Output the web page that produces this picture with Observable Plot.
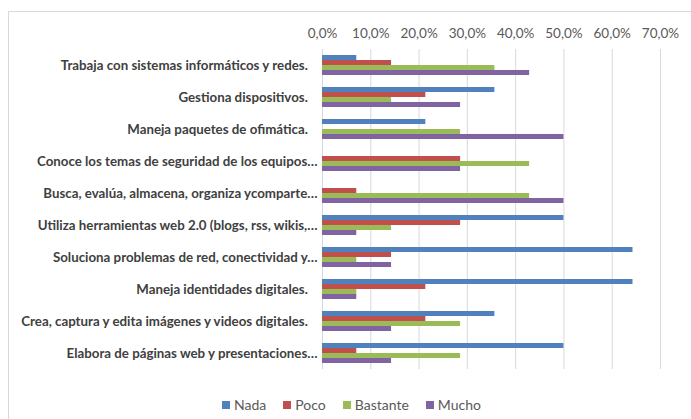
<!DOCTYPE html>
<html><head><meta charset="utf-8">
<script src="https://cdn.jsdelivr.net/npm/d3@7"></script>
<script src="https://cdn.jsdelivr.net/npm/@observablehq/plot@0.6"></script>
<style>
body{margin:0;background:#fff;font-family:Lato, sans-serif;}
#frame{position:absolute;left:8px;top:11px;width:700px;height:420px;border:1px solid #d9d9d9;}
#chart{position:absolute;left:0;top:0;}
#chart svg{overflow:visible;}
#chart [aria-label^="fy-axis"] text{font-weight:bold;fill:#404040;font-size:13.3px;}
#chart [aria-label^="x-axis"] text{fill:#595959;font-size:13.5px;}
#legend{position:absolute;left:6px;top:388px;width:691px;display:flex;justify-content:center;}
#legend span, #legend div{color:#595959;font-size:14px;font-family:Lato, sans-serif;}
#legend span{margin-right:17px !important;}
#legend span:last-child{margin-right:0 !important;}
#legend span > svg{margin-right:4px !important;}
</style></head><body>
<div id="frame"></div>
<div id="chart"></div>
<div id="legend"></div>
<script>
const categories = [
  "Trabaja con sistemas informáticos y redes.\u00a0\u00a0\u00a0",
  "Gestiona dispositivos.\u00a0\u00a0\u00a0",
  "Maneja paquetes de ofimática.\u00a0\u00a0\u00a0",
  "Conoce los temas de seguridad de los equipos…",
  "Busca, evalúa, almacena, organiza ycomparte…",
  "Utiliza herramientas web 2.0 (blogs, rss, wikis,…",
  "Soluciona problemas de red, conectividad y…",
  "Maneja identidades digitales.\u00a0\u00a0\u00a0",
  "Crea, captura y edita imágenes y videos digitales.\u00a0\u00a0\u00a0",
  "Elabora de páginas web y presentaciones…"
];
const series = ["Nada", "Poco", "Bastante", "Mucho"];
const colors = ["#4f81bd", "#c0504d", "#9bbb59", "#8064a2"];
const nada     = [0.071, 0.357, 0.214, 0,     0,     0.5,   0.643, 0.643, 0.357, 0.5];
const poco     = [0.143, 0.214, 0,     0.286, 0.071, 0.286, 0.143, 0.214, 0.214, 0.071];
const bastante = [0.357, 0.143, 0.286, 0.429, 0.429, 0.143, 0.071, 0.071, 0.286, 0.286];
const mucho    = [0.429, 0.286, 0.5,   0.286, 0.5,   0.071, 0.143, 0.071, 0.143, 0.143];
const xTicks = [0, 0.1, 0.2, 0.3, 0.4, 0.5, 0.6, 0.7];

const valuesBySeries = [nada, poco, bastante, mucho];
const data = categories.flatMap((c, i) => series.map((s, j) => ({category: c, series: s, value: valuesBySeries[j][i]})));
const fmt = d => (d * 100).toFixed(1).replace(".", ",") + "%";

const chart = Plot.plot({
  width: 691, height: 382,
  marginLeft: 322, marginRight: 31, marginTop: 48, marginBottom: 12,
  style: {fontFamily: "Lato, sans-serif", background: "transparent", fontSize: "12px"},
  x: {domain: [0, 0.7], ticks: xTicks, tickFormat: fmt, axis: "top", tickSize: 0, tickPadding: 12, label: null},
  y: {domain: series, axis: null, paddingInner: 0, paddingOuter: 0.93},
  fy: {domain: categories, padding: 0, axis: "left", label: null, tickSize: 0, tickPadding: 5},
  color: {domain: series, range: colors},
  marks: [
    Plot.ruleX(xTicks, {stroke: "#d9d9d9", strokeOpacity: 1}),
    Plot.barX(data, {x: "value", y: "series", fy: "category", fill: "series"})
  ]
});
document.getElementById("chart").appendChild(chart);

const legend = Plot.legend({
  color: {domain: series, range: colors},
  legend: "swatches",
  swatchSize: 8,
  style: {fontFamily: "Lato, sans-serif", fontSize: "14px", color: "#595959"}
});
document.getElementById("legend").appendChild(legend);
</script>
</body></html>
